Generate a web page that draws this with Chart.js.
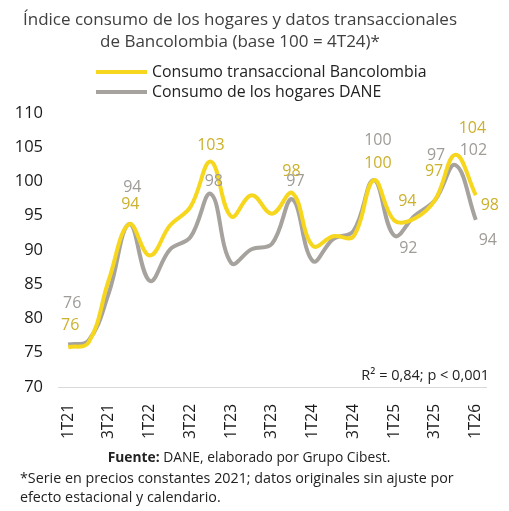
<!DOCTYPE html>
<html>
<head>
<meta charset="utf-8">
<script src="https://cdn.jsdelivr.net/npm/chart.js@4/dist/chart.umd.min.js"></script>
<style>
  html, body { margin: 0; padding: 0; background: #fff; }
</style>
</head>
<body>
<canvas id="consumoChart" width="509" height="511"></canvas>
<script>
// quarters 1T21 .. 1T26
const quarters = ['1T21','2T21','3T21','4T21','1T22','2T22','3T22','4T22','1T23','2T23','3T23','4T23',
                  '1T24','2T24','3T24','4T24','1T25','2T25','3T25','4T25','1T26'];
const bancolombia = [75.8, 76.5, 85.7, 93.8, 89.2, 93.6, 96.3, 102.9, 94.9, 98.0, 95.3, 98.3,
                     90.6, 92.0, 92.0, 100.2, 94.3, 94.6, 97.3, 103.9, 98.0];
const dane = [76.2, 76.8, 83.8, 93.8, 85.5, 90.1, 91.9, 98.2, 88.1, 90.1, 90.9, 97.4,
              88.4, 91.6, 92.8, 100.2, 92.1, 95.0, 97.3, 102.4, 94.4];
const yTicks = [70, 75, 80, 85, 90, 95, 100, 105, 110];

const FONT = "'Open Sans', sans-serif";
const YELLOW = '#F7D61E';
const GRAY = '#A6A29E';

//  ==================== VALUE LABELS ====================
// which points get a label and where it sits relative to the point
const yellowLabels = [
    {i: 0, dx: 2, dy: -22}, {i: 3, dx: 1, dy: -20}, {i: 7, dx: 0, dy: -16},
    {i: 11, dx: -1, dy: -22}, {i: 15, dx: 4, dy: -17}, {i: 16, dx: 13, dy: -19},
    {i: 18, dx: -1, dy: -29}, {i: 19, dx: 17, dy: -26}, {i: 20, dx: 14, dy: 10}
];
const grayLabels = [
    {i: 0, dx: 4, dy: -41}, {i: 3, dx: 3, dy: -37}, {i: 7, dx: 3, dy: -12},
    {i: 11, dx: 3, dy: -18}, {i: 15, dx: 4, dy: -40}, {i: 16, dx: 14, dy: 13},
    {i: 18, dx: 1, dy: -45}, {i: 19, dx: 18, dy: -15}, {i: 20, dx: 12, dy: 21}
];

const labelsPlugin = {
    id: 'valueLabels',
    afterDatasetsDraw(chart){
        const ctx = chart.ctx;
        const sets = [
            {meta: chart.getDatasetMeta(0), list: yellowLabels, color: '#CBB12C', data: bancolombia},
            {meta: chart.getDatasetMeta(1), list: grayLabels, color: '#9F9B97', data: dane}
        ];
        ctx.save();
        ctx.font = "16px " + FONT;
        ctx.textAlign = 'center';
        ctx.textBaseline = 'middle';
        sets.forEach(function(s){
            ctx.fillStyle = s.color;
            s.list.forEach(function(l){
                const pt = s.meta.data[l.i];
                ctx.fillText(Math.round(s.data[l.i]).toString(), pt.x + l.dx, pt.y + l.dy);
            });
        });
        ctx.restore();
    }
};

//  ==================== TITLE, LEGEND, NOTES ====================
const textPlugin = {
    id: 'textBlocks',
    afterDraw(chart){
        const ctx = chart.ctx;
        ctx.save();
        ctx.textBaseline = 'middle';

        // title
        ctx.fillStyle = '#404040';
        ctx.font = "17px " + FONT;
        ctx.textAlign = 'center';
        ctx.fillText('Índice consumo de los hogares y datos transaccionales', 240, 20);
        ctx.fillText('de Bancolombia (base 100 = 4T24)*', 240, 42);

        // legend
        ctx.lineWidth = 4;
        ctx.strokeStyle = YELLOW;
        ctx.beginPath(); ctx.moveTo(96, 72); ctx.lineTo(147, 72); ctx.stroke();
        ctx.strokeStyle = GRAY;
        ctx.beginPath(); ctx.moveTo(96, 92); ctx.lineTo(147, 92); ctx.stroke();
        ctx.fillStyle = '#222';
        ctx.font = "15.9px " + FONT;
        ctx.textAlign = 'left';
        ctx.fillText('Consumo transaccional Bancolombia', 152, 72);
        ctx.fillText('Consumo de los hogares DANE', 152, 92);

        // stats
        ctx.font = "14.5px " + FONT;
        ctx.textAlign = 'right';
        ctx.fillText('R² = 0,84; p < 0,001', 489, 376);

        // source
        ctx.font = "bold 13.8px " + FONT;
        const b = 'Fuente:';
        const r = ' DANE, elaborado por Grupo Cibest.';
        const wb = ctx.measureText(b).width;
        ctx.font = "13.8px " + FONT;
        const wr = ctx.measureText(r).width;
        const x0 = 249 - (wb + wr) / 2;
        ctx.textAlign = 'left';
        ctx.font = "bold 13.8px " + FONT;
        ctx.fillText(b, x0, 458);
        ctx.font = "13.8px " + FONT;
        ctx.fillText(r, x0 + wb, 458);

        // footnote
        ctx.font = "14.3px " + FONT;
        ctx.fillText('*Serie en precios constantes 2021; datos originales sin ajuste por', 20, 479);
        ctx.fillText('efecto estacional y calendario.', 20, 498);
        ctx.restore();
    }
};

let chartCtx = document.getElementById('consumoChart');
let consumoChart = new Chart(chartCtx, {
    type: 'line',
    data: {
        labels: quarters,
        datasets: [
            {
                label: 'Consumo transaccional Bancolombia',
                data: bancolombia,
                borderColor: YELLOW,
                borderWidth: 4,
                pointRadius: 0,
                tension: 0.4,
                fill: false
            },
            {
                label: 'Consumo de los hogares DANE',
                data: dane,
                borderColor: GRAY,
                borderWidth: 4,
                pointRadius: 0,
                tension: 0.4,
                fill: false
            }
        ]
    },
    options: {
        responsive: false,
        animation: false,
        devicePixelRatio: 1,
        layout: { padding: { top: 113, right: 23, left: 0, bottom: 0 } },
        plugins: {
            legend: { display: false },
            title: { display: false },
            tooltip: { enabled: false }
        },
        scales: {
            x: {
                offset: true,
                grid: { display: false },
                border: { display: true, color: '#D9D9D9', width: 1 },
                ticks: {
                    autoSkip: false,
                    maxRotation: 90,
                    minRotation: 90,
                    padding: 9,
                    color: '#1a1a1a',
                    font: { family: FONT, size: 15.5 },
                    callback: function(value, index){
                        return index % 2 === 0 ? quarters[index] : '';
                    }
                },
                afterFit: function(scale){ scale.height = 124; }
            },
            y: {
                min: yTicks[0],
                max: yTicks[yTicks.length - 1],
                grid: { display: false },
                border: { display: false },
                afterBuildTicks: function(scale){
                    scale.ticks = yTicks.map(function(v){ return {value: v}; });
                },
                ticks: {
                    padding: 7,
                    color: '#1a1a1a',
                    font: { family: FONT, size: 16.5 }
                },
                afterFit: function(scale){ scale.width = 58; }
            }
        }
    },
    plugins: [labelsPlugin, textPlugin]
});
</script>
</body>
</html>
